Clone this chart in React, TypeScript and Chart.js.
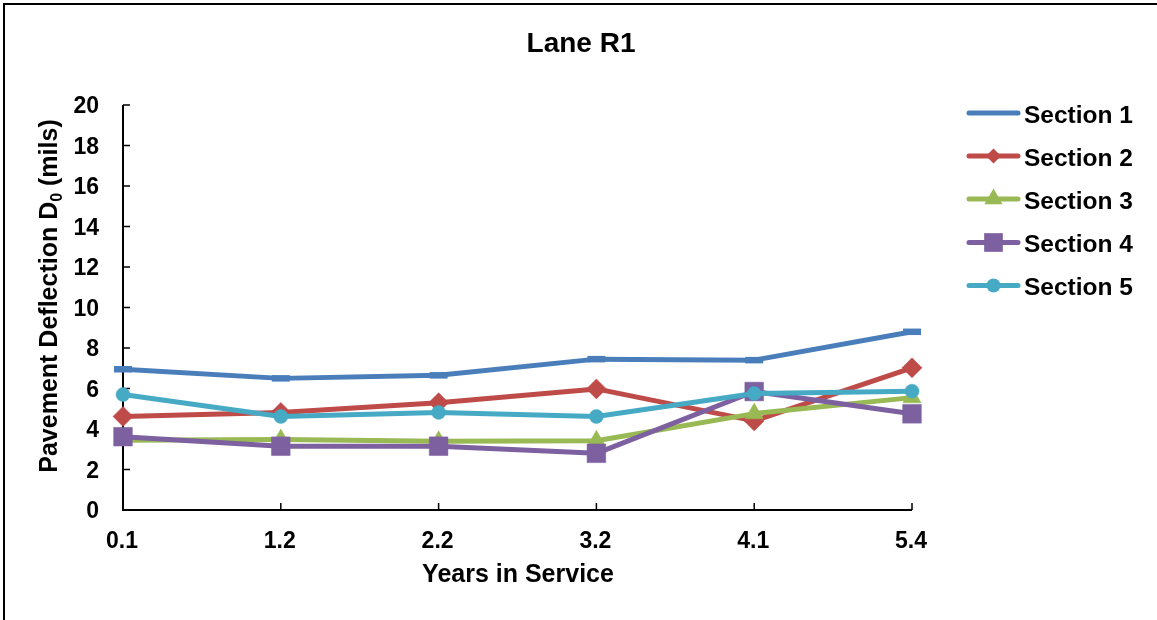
import React, { useEffect, useRef } from 'react';
import { Chart, registerables } from 'chart.js';

Chart.register(...registerables);

// ---- data ----
const years = ['0.1', '1.2', '2.2', '3.2', '4.1', '5.4'];
const section1 = [6.95, 6.5, 6.65, 7.45, 7.4, 8.8];
const section2 = [4.62, 4.82, 5.3, 5.98, 4.4, 7.02];
const section3 = [3.45, 3.48, 3.4, 3.42, 4.76, 5.55];
const section4 = [3.62, 3.15, 3.15, 2.8, 5.85, 4.75];
const section5 = [5.7, 4.62, 4.82, 4.62, 5.75, 5.87];
const seriesNames = ['Section 1', 'Section 2', 'Section 3', 'Section 4', 'Section 5'];
const seriesValues = [section1, section2, section3, section4, section5];
const seriesColors = ['#4A7EBB', '#BE4B48', '#98B954', '#7D60A0', '#46AAC5'];
const seriesMarkers = ['line', 'rectRot', 'triangle', 'rect', 'circle'];
const yMin = 0;
const yMax = 20;
const yStep = 2;
const chartTitle = 'Lane R1';
const xTitle = 'Years in Service';
const yTitleMain = 'Pavement Deflection D';
const yTitleSub = '0';
const yTitleEnd = ' (mils)';

const FONT = '"Liberation Sans", Arial, Helvetica, sans-serif';

const markerRadius: Record<string, number> = {
  line: 9,
  rectRot: 10,
  triangle: 10.5,
  rect: 13.2,
  circle: 7,
};

function drawMarker(ctx: CanvasRenderingContext2D, style: string, x: number, y: number, color: string, scale = 1) {
  const r = markerRadius[style] * scale;
  ctx.save();
  ctx.fillStyle = color;
  ctx.strokeStyle = color;
  ctx.beginPath();
  if (style === 'rectRot') {
    ctx.moveTo(x - r, y);
    ctx.lineTo(x, y - r);
    ctx.lineTo(x + r, y);
    ctx.lineTo(x, y + r);
    ctx.closePath();
    ctx.fill();
  } else if (style === 'triangle') {
    ctx.moveTo(x, y - r);
    ctx.lineTo(x + r * 0.866, y + r * 0.5);
    ctx.lineTo(x - r * 0.866, y + r * 0.5);
    ctx.closePath();
    ctx.fill();
  } else if (style === 'rect') {
    const s = r * Math.SQRT1_2;
    ctx.rect(x - s, y - s, 2 * s, 2 * s);
    ctx.fill();
  } else if (style === 'circle') {
    ctx.arc(x, y, r, 0, Math.PI * 2);
    ctx.fill();
  }
  ctx.restore();
}

const decorPlugin = {
  id: 'decor',
  beforeDatasetsDraw(chart: any) {
    const ctx: CanvasRenderingContext2D = chart.ctx;
    const x = chart.scales.x;
    const y = chart.scales.y;
    const left = chart.chartArea.left;
    const right = chart.chartArea.right;
    const top = chart.chartArea.top;
    const bottom = chart.chartArea.bottom;
    ctx.save();
    // outer frame
    ctx.strokeStyle = '#000';
    ctx.lineWidth = 2;
    ctx.beginPath();
    ctx.moveTo(4, 2000);
    ctx.lineTo(4, 4);
    ctx.lineTo(3000, 4);
    ctx.stroke();

    // axes
    ctx.lineWidth = 2;
    ctx.beginPath();
    ctx.moveTo(left, top);
    ctx.lineTo(left, bottom);
    ctx.lineTo(right, bottom);
    ctx.stroke();
    ctx.lineWidth = 1.5;
    ctx.beginPath();
    y.ticks.forEach((t: any) => {
      const py = y.getPixelForValue(t.value);
      ctx.moveTo(left, py);
      ctx.lineTo(left + 7, py);
    });
    years.forEach((_, i) => {
      const px = x.getPixelForValue(i);
      ctx.moveTo(px, bottom);
      ctx.lineTo(px, bottom - 7);
    });
    ctx.stroke();

    // tick labels
    ctx.fillStyle = '#000';
    ctx.font = `bold 23px ${FONT}`;
    ctx.textAlign = 'right';
    ctx.textBaseline = 'alphabetic';
    y.ticks.forEach((t: any) => {
      const py = y.getPixelForValue(t.value);
      ctx.fillText(String(t.value), left - 24, py + 8);
    });
    ctx.textAlign = 'center';
    years.forEach((lab, i) => {
      const px = x.getPixelForValue(i);
      ctx.fillText(lab, px - 1, bottom + 38);
    });

    // title
    ctx.font = `bold 28px ${FONT}`;
    ctx.fillText(chartTitle, 581, 52);

    // x title
    ctx.font = `bold 25px ${FONT}`;
    ctx.fillText(xTitle, 518, 582);

    // y title with subscript
    ctx.save();
    ctx.translate(57, 296);
    ctx.rotate(-Math.PI / 2);
    ctx.textAlign = 'left';
    const mainFont = `bold 25px ${FONT}`;
    const subFont = `bold 16px ${FONT}`;
    ctx.font = mainFont;
    const w1 = ctx.measureText(yTitleMain).width;
    const w3 = ctx.measureText(yTitleEnd).width;
    ctx.font = subFont;
    const w2 = ctx.measureText(yTitleSub).width;
    const total = w1 + w2 + w3;
    let cx = -total / 2;
    ctx.font = mainFont;
    ctx.fillText(yTitleMain, cx, 0);
    cx += w1;
    ctx.font = subFont;
    ctx.fillText(yTitleSub, cx, 5);
    cx += w2;
    ctx.font = mainFont;
    ctx.fillText(yTitleEnd, cx, 0);
    ctx.restore();

    // legend
    const legendY = [113, 156, 199, 242.5, 285.5];
    seriesNames.forEach((name, i) => {
      const ly = legendY[i];
      ctx.strokeStyle = seriesColors[i];
      ctx.lineWidth = 5;
      ctx.lineCap = 'round';
      ctx.beginPath();
      ctx.moveTo(969, ly);
      ctx.lineTo(1018, ly);
      ctx.stroke();
      const st = seriesMarkers[i];
      if (st !== 'line') {
        drawMarker(ctx, st, 993.5, ly, seriesColors[i], st === 'rectRot' ? 0.75 : 1);
      }
      ctx.fillStyle = '#000';
      ctx.font = `bold 24.5px ${FONT}`;
      ctx.textAlign = 'left';
      ctx.fillText(name, 1024, ly + 9.5);
    });
    ctx.restore();
  },
};

export default function App() {
  const ref = useRef<HTMLCanvasElement | null>(null);
  useEffect(() => {
    if (!ref.current) return;
    const datasets = seriesNames.map((name, i) => {
      const st = seriesMarkers[i];
      return {
        label: name,
        data: seriesValues[i],
        borderColor: seriesColors[i],
        backgroundColor: seriesColors[i],
        borderWidth: 5,
        pointStyle: st,
        pointRadius: markerRadius[st],
        pointHoverRadius: markerRadius[st],
        pointBackgroundColor: seriesColors[i],
        pointBorderColor: seriesColors[i],
        pointBorderWidth: st === 'line' ? 6.5 : 0.5,
        borderJoinStyle: 'round' as const,
        tension: 0,
        fill: false,
        clip: false as any,
        order: seriesNames.length - i,
      };
    });
    const chart = new Chart(ref.current, {
      type: 'line',
      data: { labels: years, datasets: datasets as any },
      options: {
        responsive: false,
        animation: false,
        devicePixelRatio: 1,
        layout: { padding: { left: 123, right: 245, top: 105, bottom: 110 } },
        plugins: {
          legend: { display: false },
          title: { display: false },
          tooltip: { enabled: false },
        },
        events: [],
        scales: {
          x: { type: 'category', display: false, offset: false },
          y: { type: 'linear', display: false, min: yMin, max: yMax, ticks: { stepSize: yStep } },
        },
      },
      plugins: [decorPlugin],
    });
    return () => chart.destroy();
  }, []);
  return (
    <div style={{ position: 'fixed', left: 0, top: 0, width: 1157, height: 620, background: '#fff' }}>
      <canvas ref={ref} width={1157} height={620} style={{ display: 'block', width: 1157, height: 620 }} />
    </div>
  );
}
